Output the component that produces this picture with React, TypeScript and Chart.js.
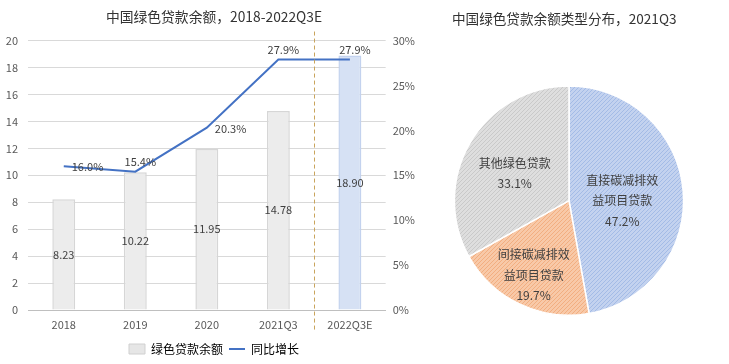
import React, { useEffect, useRef } from "react";
import { Chart, registerables } from "chart.js";

Chart.register(...registerables);

// ---------- data ----------
const categories = ["2018", "2019", "2020", "2021Q3", "2022Q3E"];
const loanBalance = [8.23, 10.22, 11.95, 14.78, 18.9];
const yoyGrowth = [16.0, 15.4, 20.3, 27.9, 27.9];
const barSeriesName = "绿色贷款余额";
const lineSeriesName = "同比增长";
const leftTitle = "中国绿色贷款余额，2018-2022Q3E";

const pieTitle = "中国绿色贷款余额类型分布，2021Q3";
const pieCategories = ["直接碳减排效益项目贷款", "间接碳减排效益项目贷款", "其他绿色贷款"];
const pieLabelLines = [["直接碳减排效", "益项目贷款"], ["间接碳减排效", "益项目贷款"], ["其他绿色贷款"]];
const pieShares = [47.2, 19.7, 33.1];

// ---------- style ----------
const FONT = "'Noto Sans CJK SC', 'Noto Sans', sans-serif";
const TEXT = "#404040";
const TICK = "#595959";
const lineLabelPlacement = ["right", "above", "right", "above", "above"];
// label anchor per slice: fraction of radius, angle offset in degrees
const pieLabelRadius = [0.465, 0.72, 0.53];
const pieLabelAngle = [5, 0, -3.8];

function makePattern(base: string, dark: string) {
  const c = document.createElement("canvas");
  c.width = 4;
  c.height = 4;
  const g = c.getContext("2d")!;
  g.fillStyle = base;
  g.fillRect(0, 0, 4, 4);
  g.fillStyle = dark;
  for (let i = 0; i < 4; i++) {
    g.fillRect(i, 3 - i, 1, 1);
  }
  return g.createPattern(c, "repeat")!;
}

const barValuePlugin = {
  id: "barValues",
  afterDatasetsDraw(chart: any) {
    const ctx = chart.ctx;
    ctx.save();
    ctx.font = `11px ${FONT}`;
    ctx.fillStyle = TEXT;
    ctx.textAlign = "center";
    ctx.textBaseline = "middle";
    const barMeta = chart.getDatasetMeta(0);
    barMeta.data.forEach((el: any, i: number) => {
      ctx.fillText(loanBalance[i].toFixed(2), el.x, (el.y + el.base) / 2);
    });
    const lineMeta = chart.getDatasetMeta(1);
    lineMeta.data.forEach((el: any, i: number) => {
      const txt = yoyGrowth[i].toFixed(1) + "%";
      if (lineLabelPlacement[i] === "right") {
        ctx.textAlign = "left";
        ctx.fillText(txt, el.x + 8, el.y + 1);
      } else {
        ctx.textAlign = "center";
        ctx.fillText(txt, el.x + 5, el.y - 10);
      }
    });
    ctx.restore();
  },
};

const dividerPlugin = {
  id: "divider",
  afterDraw(chart: any) {
    const ctx = chart.ctx;
    const xs = chart.scales.x;
    const x = Math.round(xs.getPixelForValue(3.5)) + 0.5;
    const area = chart.chartArea;
    ctx.save();
    ctx.strokeStyle = "#c9a45c";
    ctx.lineWidth = 1;
    ctx.setLineDash([4, 3]);
    ctx.beginPath();
    ctx.moveTo(x, area.top - 9);
    ctx.lineTo(x, area.bottom + 20);
    ctx.stroke();
    ctx.restore();
  },
};

const pieLabelPlugin = {
  id: "pieLabels",
  afterDatasetsDraw(chart: any) {
    const ctx = chart.ctx;
    const meta = chart.getDatasetMeta(0);
    ctx.save();
    ctx.font = `12px ${FONT}`;
    ctx.fillStyle = TEXT;
    ctx.textAlign = "center";
    ctx.textBaseline = "middle";
    meta.data.forEach((el: any, i: number) => {
      const mid = (el.startAngle + el.endAngle) / 2 + (pieLabelAngle[i] * Math.PI) / 180;
      const r = el.outerRadius * pieLabelRadius[i];
      const cx = el.x + Math.cos(mid) * r;
      const cy = el.y + Math.sin(mid) * r;
      const lines = [...pieLabelLines[i], pieShares[i].toFixed(1) + "%"];
      const lh = 20.5;
      const y0 = cy - ((lines.length - 1) * lh) / 2;
      lines.forEach((t, k) => ctx.fillText(t, cx, y0 + k * lh));
    });
    ctx.restore();
  },
};

function LeftChart() {
  const ref = useRef<HTMLCanvasElement>(null);
  useEffect(() => {
    const barColors = loanBalance.map((_, i) => (i === 4 ? "#d6e1f4" : "#ececec"));
    const barBorders = loanBalance.map((_, i) => (i === 4 ? "#c3d2ee" : "#d6d6d6"));
    const chart = new Chart(ref.current!, {
      type: "bar",
      data: {
        labels: categories,
        datasets: [
          {
            type: "bar",
            label: barSeriesName,
            data: loanBalance,
            backgroundColor: barColors,
            borderColor: barBorders,
            borderWidth: 1.5,
            categoryPercentage: 1,
            barPercentage: 0.32,
            yAxisID: "y",
            order: 2,
          },
          {
            type: "line",
            label: lineSeriesName,
            data: yoyGrowth,
            borderColor: "#4472c4",
            backgroundColor: "#4472c4",
            borderWidth: 2,
            pointRadius: 0,
            tension: 0,
            yAxisID: "y1",
            order: 1,
          } as any,
        ],
      },
      options: {
        responsive: false,
        animation: false,
        layout: { padding: { left: 6, right: 8, top: 0, bottom: -1 } },
        plugins: {
          tooltip: { enabled: false },
          title: {
            display: true,
            text: leftTitle,
            color: "#333333",
            font: { size: 13.8, family: FONT, weight: "normal" },
            padding: { top: 8, bottom: 16 },
          },
          legend: {
            position: "bottom",
            labels: {
              usePointStyle: true,
              pointStyleWidth: 16,
              boxHeight: 10,
              color: TEXT,
              font: { size: 12, family: FONT },
              padding: 6,
              generateLabels() {
                return [
                  {
                    text: barSeriesName,
                    fillStyle: "#e6e6e6",
                    strokeStyle: "#d0d0d0",
                    lineWidth: 1,
                    pointStyle: "rect",
                    datasetIndex: 0,
                    hidden: false,
                  },
                  {
                    text: lineSeriesName,
                    fillStyle: "#4472c4",
                    strokeStyle: "#4472c4",
                    lineWidth: 2,
                    pointStyle: "line",
                    datasetIndex: 1,
                    hidden: false,
                  },
                ] as any;
              },
            },
          },
        },
        scales: {
          x: {
            grid: { display: false, drawTicks: false },
            border: { display: true, color: "#bfbfbf", width: 1 },
            ticks: { color: TICK, font: { size: 11, family: FONT }, padding: 8 },
            afterFit(scale: any) {
              scale.height = 27;
            },
          },
          y: {
            position: "left",
            min: 0,
            max: 20,
            ticks: { stepSize: 2, color: TICK, font: { size: 11, family: FONT }, padding: 10 },
            grid: { color: "#d9d9d9", drawTicks: false, lineWidth: 1 },
            border: { display: false },
            afterFit(scale: any) {
              scale.width = 22;
            },
          },
          y1: {
            position: "right",
            min: 0,
            max: 30,
            ticks: {
              stepSize: 5,
              color: TICK,
              font: { size: 11, family: FONT },
              padding: 7,
              callback: (v: any) => v + "%",
            },
            grid: { display: false, drawTicks: false },
            border: { display: false },
          },
        },
      },
      plugins: [barValuePlugin, dividerPlugin],
    });
    return () => chart.destroy();
  }, []);
  return <canvas ref={ref} width={430} height={364} />;
}

function RightChart() {
  const ref = useRef<HTMLCanvasElement>(null);
  useEffect(() => {
    const canvas = ref.current!;
    const patterns = [
      makePattern("#c3d2ef", "#a3bbe6"),
      makePattern("#f8c9a8", "#f2ae80"),
      makePattern("#dedede", "#c9c9c9"),
    ];
    const chart = new Chart(canvas, {
      type: "pie",
      data: {
        labels: pieCategories,
        datasets: [
          {
            data: pieShares,
            backgroundColor: patterns as any,
            borderColor: "#ffffff",
            borderWidth: 1.5,
          },
        ],
      },
      options: {
        responsive: false,
        animation: false,
        layout: { padding: { left: 22, right: 43, top: 0, bottom: 48 } },
        plugins: {
          tooltip: { enabled: false },
          legend: { display: false },
          title: {
            display: true,
            text: pieTitle,
            align: "start",
            color: "#333333",
            font: { size: 13.6, family: FONT, weight: "normal" },
            padding: { top: 11, bottom: 58 },
          },
        },
      },
      plugins: [pieLabelPlugin],
    });
    return () => chart.destroy();
  }, []);
  return <canvas ref={ref} width={299} height={364} />;
}

export default function App() {
  return (
    <div style={{ position: "absolute", left: 0, top: 0, width: 729, height: 364, background: "#fff" }}>
      <div style={{ position: "absolute", left: 0, top: 0, width: 430, height: 364 }}>
        <LeftChart />
      </div>
      <div style={{ position: "absolute", left: 430, top: 0, width: 299, height: 364 }}>
        <RightChart />
      </div>
    </div>
  );
}
